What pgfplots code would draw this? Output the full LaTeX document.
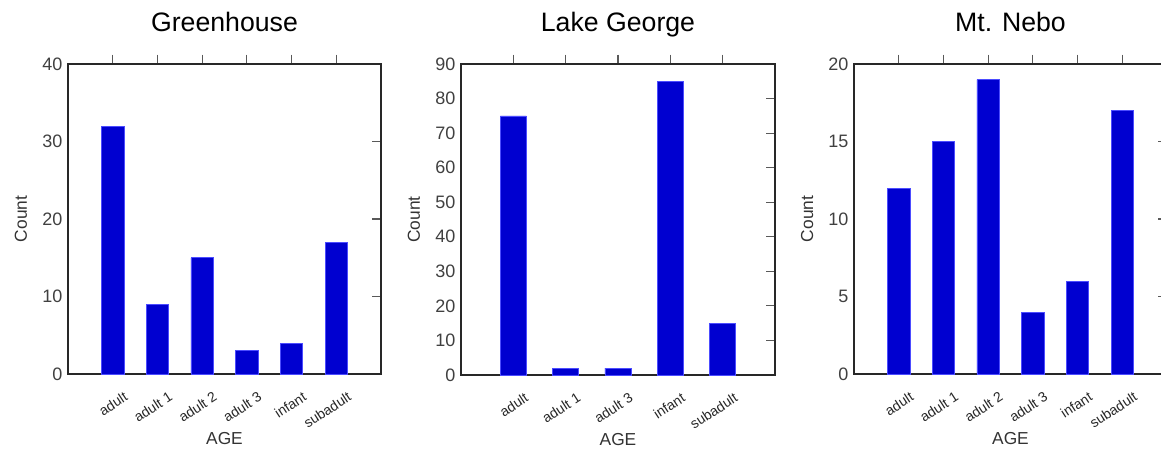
\documentclass[border=0pt]{standalone}
\usepackage{pgfplots}
\pgfplotsset{compat=1.18}
\usepackage{fontspec}
\setmainfont{Liberation Sans}
\definecolor{barblue}{RGB}{0,0,208}
\definecolor{axgray}{RGB}{40,40,40}
\pgfplotsset{
  panel/.style={
    scale only axis,
    anchor=south west,
    ymin=0,
    xmin=0,
    axis line style={axgray, line width=0.9pt},
    tick align=inside,
    xtick pos=upper, xticklabel pos=lower,
    ytick pos=right, yticklabel pos=left,
    major tick length=7pt,
    tick style={gray!70!black, line width=0.9pt},
    /pgf/number format/assume math mode=true,
    xtick=data,
    yticklabel style={font=\fontsize{13.5}{14}\selectfont, text=black!75, inner sep=0pt, anchor=east, xshift=-4pt},
    xticklabel style={font=\fontsize{10.5}{11}\selectfont, text=black!85, rotate=33, anchor=north east, inner sep=0pt, xshift=3.5pt, yshift=-9pt},
    title style={font=\fontsize{20}{21}\selectfont, at={(0.5,1)}, anchor=base, yshift=18.5pt},
    xlabel style={font=\fontsize{13}{14}\selectfont, text=black!80, at={(0.5,0)}, anchor=base, yshift=-53pt},
    ylabel style={font=\fontsize{13}{14}\selectfont, text=black!80, at={(-0.131,0.5)}, anchor=base},
    xlabel={AGE}, ylabel={Count},
    ybar, bar width=0.5,
  },
  bars/.style={fill=barblue, draw=blue!70!white, line width=0.4pt, bar shift=0pt},
}
\begin{document}
\begin{tikzpicture}
\useasboundingbox (0,0) rectangle (870.75pt,338.25pt);
\clip (0,0) rectangle (870.75pt,338.25pt);
\begin{axis}[panel, at={(51pt,57.75pt)}, width=234.75pt, height=232.5pt,
  title={Greenhouse}, xmax=7, ymax=40, ytick={0,10,20,30,40},
  xticklabels={adult, adult 1, adult 2, adult 3, infant, subadult}]
\addplot[bars] coordinates {(1,32) (2,9) (3,15) (4,3) (5,4) (6,17)};
\end{axis}
\begin{axis}[panel, at={(345.75pt,57pt)}, width=235.5pt, height=233.25pt,
  title={Lake George}, xmax=6, ymax=90, ytick={0,10,...,90},
  xticklabels={adult, adult 1, adult 3, infant, subadult}]
\addplot[bars] coordinates {(1,75) (2,2) (3,2) (4,85) (5,15)};
\end{axis}
\begin{axis}[panel, at={(640.5pt,57.75pt)}, width=234.75pt, height=232.5pt,
  title={Mt. Nebo}, xmax=7, ymax=20, ytick={0,5,10,15,20},
  xticklabels={adult, adult 1, adult 2, adult 3, infant, subadult}]
\addplot[bars] coordinates {(1,12) (2,15) (3,19) (4,4) (5,6) (6,17)};
\end{axis}
\end{tikzpicture}
\end{document}
